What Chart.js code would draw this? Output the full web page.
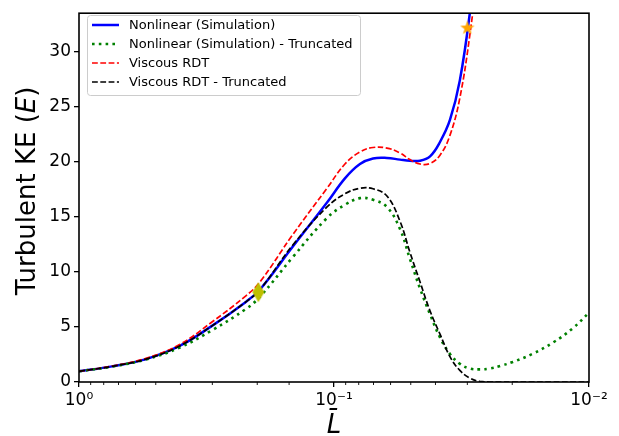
<!DOCTYPE html>
<html><head><meta charset="utf-8">
<script src="https://cdn.jsdelivr.net/npm/chart.js@4.4.1/dist/chart.umd.min.js"></script>
<style>html,body{margin:0;padding:0;background:#fff;} #wrap{width:619px;height:436px;position:relative;}</style>
</head><body><div id="wrap"><canvas id="c" width="619" height="436"></canvas></div>
<script>
// ---- data ----
const Lbar = [1.0, 0.742, 0.546, 0.405, 0.301, 0.221, 0.195, 0.145, 0.1065, 0.0906, 0.0791, 0.0703, 0.062, 0.0551, 0.0504, 0.046, 0.042, 0.0384, 0.0351, 0.0321, 0.0293, 0.0268, 0.0245, 0.0223, 0.0199, 0.0166, 0.0138, 0.01155, 0.01];
const nonlinearSim   = [0.97, 1.42, 2.08, 3.25, 5.1, 7.3, 8.4, 12.3, 16.3, 18.5, 19.8, 20.3, 20.35, 20.2, 20.1, 20.1, 20.5, 21.8, 23.8, 27.4, 33.6, 42, null, null, null, null, null, null, null];
const nonlinearTrunc = [0.97, 1.4, 2.05, 3.1, 4.7, 6.65, 7.75, 11.35, 14.9, 16.1, 16.7, 16.55, 15.9, 13.9, 11.2, 8.5, 6.15, 4.05, 2.55, 1.65, 1.22, 1.15, 1.22, 1.45, 1.82, 2.57, 3.6, 4.9, 6.3];
const viscousRDT     = [0.97, 1.45, 2.15, 3.38, 5.45, 7.85, 9.1, 13.4, 17.6, 19.8, 20.9, 21.3, 21.25, 20.8, 20.2, 19.8, 19.85, 20.6, 22.4, 25.8, 31.6, 39, null, null, null, null, null, null, null];
const viscousRDTTrunc= [0.97, 1.42, 2.08, 3.25, 5.1, 7.3, 8.4, 12.45, 15.9, 17.1, 17.6, 17.55, 16.9, 14.6, 11.8, 9.1, 6.45, 4.35, 2.3, 1.05, 0.35, 0.05, 0, 0, 0, 0, 0, 0, 0];
const seriesNames = ['Nonlinear (Simulation)', 'Nonlinear (Simulation) - Truncated', 'Viscous RDT', 'Viscous RDT - Truncated'];
const diamondPoint = {x: 0.198, y: 8.16};
const starPoint = {x: 0.0300, y: 32.2};
const yTickValues = [0, 5, 10, 15, 20, 25, 30];
const xTickLabels = {'0': '10⁰', '-1': '10⁻¹', '-2': '10⁻²'};
const yTitleParts = ['Turbulent KE (', 'E', ')'];
const xTitleText = 'L\u0304';

const FONT = '"DejaVu Sans", "Liberation Sans", sans-serif';

function pts(arr) {
  const out = [];
  arr.forEach((v, i) => { if (v !== null) out.push({x: Lbar[i], y: v}); });
  return out;
}

// marker images
function diamondImg() {
  const c = document.createElement('canvas'); c.width = 14; c.height = 22;
  const g = c.getContext('2d');
  g.fillStyle = '#bfbf00';
  g.beginPath(); g.moveTo(7, 1); g.lineTo(13, 11); g.lineTo(7, 21); g.lineTo(1, 11); g.closePath(); g.fill();
  return c;
}
function starImg() {
  const c = document.createElement('canvas'); c.width = 16; c.height = 16;
  const g = c.getContext('2d');
  g.fillStyle = '#ffa500';
  g.beginPath();
  for (let k = 0; k < 10; k++) {
    const r = k % 2 === 0 ? 7.5 : 3.0;
    const a = -Math.PI / 2 + k * Math.PI / 5;
    const px = 8 + r * Math.cos(a), py = 8.5 + r * Math.sin(a);
    k === 0 ? g.moveTo(px, py) : g.lineTo(px, py);
  }
  g.closePath(); g.fill();
  return c;
}

const lineDefs = [
  {label: seriesNames[0], data: pts(nonlinearSim), borderColor: '#0000ff', borderWidth: 2.5, borderDash: [], order: 4},
  {label: seriesNames[1], data: pts(nonlinearTrunc), borderColor: '#008000', borderWidth: 2.6, borderDash: [2.6, 4.2], order: 3},
  {label: seriesNames[2], data: pts(viscousRDT), borderColor: '#ff0000', borderWidth: 1.7, borderDash: [5.8, 2.5], order: 2},
  {label: seriesNames[3], data: pts(viscousRDTTrunc), borderColor: '#000000', borderWidth: 1.7, borderDash: [5.8, 2.5], order: 1},
];
const datasets = lineDefs.map(d => Object.assign({
  pointRadius: 0, fill: false, tension: 0.4, borderCapStyle: 'butt'
}, d));
datasets.push({label: 'diamond', data: [diamondPoint], showLine: false, pointStyle: diamondImg(), pointRadius: 8, order: 0});
datasets.push({label: 'star', data: [starPoint], showLine: false, pointStyle: starImg(), pointRadius: 8, order: 0});

const isPow10 = v => Math.abs(Math.log10(v) - Math.round(Math.log10(v))) < 1e-6;

const decor = {
  id: 'decor',
  afterDraw(chart) {
    const ctx = chart.ctx, a = chart.chartArea;
    const xs = chart.scales.x;
    ctx.save();
    // minor x ticks
    ctx.strokeStyle = '#000'; ctx.lineWidth = 0.9;
    xs.ticks.forEach(t => {
      if (isPow10(t.value)) return;
      const px = xs.getPixelForValue(t.value);
      ctx.beginPath(); ctx.moveTo(px, a.bottom); ctx.lineTo(px, a.bottom + 3); ctx.stroke();
    });
    // frame
    ctx.lineWidth = 1.6; ctx.strokeStyle = '#000';
    ctx.strokeRect(a.left, a.top, a.right - a.left, a.bottom - a.top);
    // legend
    const bx = 87, by = 15, bw = 273, bh = 80;
    ctx.fillStyle = 'rgba(255,255,255,0.8)';
    ctx.strokeStyle = '#cccccc'; ctx.lineWidth = 1;
    ctx.beginPath();
    if (ctx.roundRect) ctx.roundRect(bx + 0.5, by + 0.5, bw, bh, 3); else ctx.rect(bx + 0.5, by + 0.5, bw, bh);
    ctx.fill(); ctx.stroke();
    ctx.font = '13px ' + FONT; ctx.textBaseline = 'middle'; ctx.textAlign = 'left';
    lineDefs.forEach((d, i) => {
      const ry = 25 + i * 19;
      ctx.strokeStyle = d.borderColor; ctx.lineWidth = d.borderWidth; ctx.setLineDash(d.borderDash);
      ctx.lineCap = 'butt';
      ctx.beginPath(); ctx.moveTo(92, ry); ctx.lineTo(119, ry); ctx.stroke();
      ctx.setLineDash([]);
      ctx.fillStyle = '#000';
      ctx.fillText(d.label, 129, ry + 0.5);
    });
    // y title
    ctx.save();
    ctx.translate(35, 191); ctx.rotate(-Math.PI / 2);
    const fN = '26px ' + FONT, fI = 'italic 26px ' + FONT;
    const fonts = [fN, fI, fN];
    let total = 0; const widths = [];
    yTitleParts.forEach((p, i) => { ctx.font = fonts[i]; const w = ctx.measureText(p).width; widths.push(w); total += w; });
    let cx = -total / 2;
    ctx.fillStyle = '#000'; ctx.textBaseline = 'alphabetic'; ctx.textAlign = 'left';
    yTitleParts.forEach((p, i) => { ctx.font = fonts[i]; ctx.fillText(p, cx, 0); cx += widths[i]; });
    ctx.restore();
    // x title
    ctx.font = 'italic 26px ' + FONT; ctx.textAlign = 'center'; ctx.textBaseline = 'alphabetic'; ctx.fillStyle = '#000';
    ctx.fillText(xTitleText, (a.left + a.right) / 2, 433);
    ctx.restore();
  }
};

new Chart(document.getElementById('c'), {
  type: 'line',
  data: {datasets},
  options: {
    responsive: false, animation: false, devicePixelRatio: 1,
    layout: {padding: {top: 9, right: 30, left: 0, bottom: 0}},
    plugins: {legend: {display: false}, tooltip: {enabled: false}},
    scales: {
      x: {
        type: 'logarithmic', reverse: true, min: 0.01, max: 1,
        afterFit: s => { s.height = 54; },
        border: {display: false},
        grid: {display: true, drawOnChartArea: false, drawTicks: true, tickLength: 5, lineWidth: 1.3,
          tickColor: c => (c.tick && isPow10(c.tick.value)) ? '#000' : 'rgba(0,0,0,0)', color: '#000'},
        ticks: {autoSkip: false, maxRotation: 0, padding: 3, color: '#000', font: {family: FONT, size: 17},
          callback: v => isPow10(v) ? xTickLabels[String(Math.round(Math.log10(v)))] : ''}
      },
      y: {
        type: 'linear', min: 0, max: 33.5,
        afterFit: s => { s.width = 79; },
        afterBuildTicks: s => { s.ticks = yTickValues.map(v => ({value: v})); },
        border: {display: false},
        grid: {display: true, drawOnChartArea: false, drawTicks: true, tickLength: 5, lineWidth: 1.3, color: '#000', tickColor: '#000'},
        ticks: {padding: 3, color: '#000', font: {family: FONT, size: 17}}
      }
    }
  },
  plugins: [decor]
});
</script></body></html>
